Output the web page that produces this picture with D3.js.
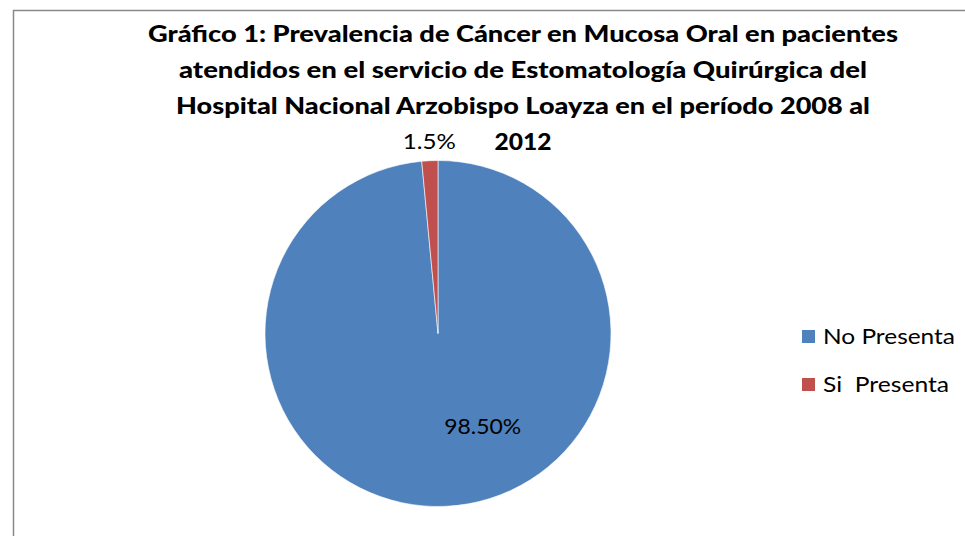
<!DOCTYPE html>
<html>
<head>
<meta charset="utf-8">
<script src="https://cdn.jsdelivr.net/npm/d3@7"></script>
<style>
  body { margin: 0; background: #fff; }
  text { font-family: Lato, "Open Sans", sans-serif; }
</style>
</head>
<body>
<div class="chart"></div>
<script>
// data
var categories = ["No Presenta", "Si  Presenta"];
var values = [98.5, 1.5];
var sliceLabels = ["98.50%", "1.5%"];
var colors = ["#4F81BD", "#C0504D"];
var titleLines = [
  "Gráfico 1: Prevalencia de Cáncer en Mucosa Oral en pacientes",
  "atendidos en el servicio de Estomatología Quirúrgica del",
  "Hospital Nacional Arzobispo Loayza en el período 2008 al",
  "2012"
];
var titleWidths = [750, 688, 694, 57];

var width = 965, height = 536;
var cx = 438, cy = 333.5, radius = 173;

var svg = d3.select(".chart").append("svg")
    .attr("width", width)
    .attr("height", height);

// chart frame (only top and left edges fall inside the picture)
svg.append("rect")
    .attr("x", 13.5)
    .attr("y", 10.5)
    .attr("width", 1000)
    .attr("height", 600)
    .style("fill", "none")
    .style("stroke", "#8a8a8a")
    .style("stroke-width", 1.5);

// title
svg.selectAll(".title")
    .data(titleLines)
  .enter().append("text")
    .attr("class", "title")
    .attr("x", 523)
    .attr("y", function(d, i) { return [42, 78, 114, 149.5][i]; })
    .attr("text-anchor", "middle")
    .attr("textLength", function(d, i) { return titleWidths[i]; })
    .attr("lengthAdjust", "spacingAndGlyphs")
    .style("font-size", "22.5px")
    .style("font-weight", "900")
    .text(function(d) { return d; });

// pie
var pie = d3.pie().sort(null).value(function(d) { return d; });
var arc = d3.arc().innerRadius(0).outerRadius(radius);
var arcs = pie(values);

var g = svg.append("g")
    .attr("transform", "translate(" + cx + "," + cy + ")");

g.selectAll("path")
    .data(arcs)
  .enter().append("path")
    .attr("d", arc)
    .style("fill", function(d, i) { return colors[i]; })
    .style("stroke", "#fff")
    .style("stroke-width", 0.6);

// slice labels
var labelPos = [
  d3.arc().innerRadius(radius * 0.58).outerRadius(radius * 0.58),
  d3.arc().innerRadius(radius * 1.07).outerRadius(radius * 1.07)
];
var labelShift = [40, 0];
var labelWidths = [77, 53];
g.selectAll(".lbl")
    .data(arcs)
  .enter().append("text")
    .attr("class", "lbl")
    .attr("transform", function(d, i) {
      var c = labelPos[i].centroid(d);
      return "translate(" + (c[0] + labelShift[i]) + "," + c[1] + ")";
    })
    .attr("text-anchor", "middle")
    .attr("textLength", function(d, i) { return labelWidths[i]; })
    .attr("lengthAdjust", "spacingAndGlyphs")
    .style("font-size", "21px")
    .style("fill", "#000")
    .text(function(d, i) { return sliceLabels[i]; });

// legend
var legendWidths = [132, 126];
var legend = svg.selectAll(".legend")
    .data(categories)
  .enter().append("g")
    .attr("class", "legend")
    .attr("transform", function(d, i) { return "translate(802," + (330 + i * 48) + ")"; });

legend.append("rect")
    .attr("width", 13)
    .attr("height", 13)
    .style("fill", function(d, i) { return colors[i]; });

legend.append("text")
    .attr("x", 21)
    .attr("y", 14)
    .attr("textLength", function(d, i) { return legendWidths[i]; })
    .attr("lengthAdjust", "spacingAndGlyphs")
    .style("font-size", "21px")
    .style("white-space", "pre")
    .attr("xml:space", "preserve")
    .text(function(d) { return d; });
</script>
</body>
</html>
